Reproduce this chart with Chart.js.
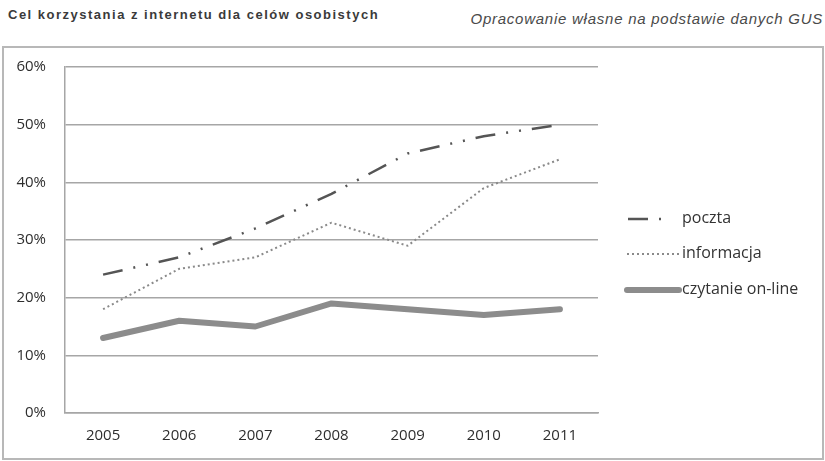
<!DOCTYPE html>
<html>
<head>
<meta charset="utf-8">
<script src="https://cdn.jsdelivr.net/npm/chart.js@4/dist/chart.umd.min.js"></script>
<style>
  html, body { margin: 0; padding: 0; background: #fff; }
  #wrap { position: relative; width: 825px; height: 461px; overflow: hidden; background: #fff; }
  .title {
    position: absolute; left: 8px; top: 7px;
    font: bold 13px "Liberation Sans", Arial, sans-serif;
    letter-spacing: 1.5px; color: #3a3a3a; white-space: nowrap;
  }
  .source {
    position: absolute; right: 2px; top: 10px;
    font: italic 15px "Liberation Sans", Arial, sans-serif;
    letter-spacing: 0.75px; color: #4a4a4a; white-space: nowrap;
  }
  .frame {
    position: absolute; left: 2px; top: 46px; width: 818px; height: 410px;
    border: 2px solid #b8b8b8;
  }
  canvas { position: absolute; left: 0; top: 0; }
</style>
</head>
<body>
<div id="wrap">
  <div class="title">Cel korzystania z internetu dla celów osobistych</div>
  <div class="source">Opracowanie własne na podstawie danych GUS</div>
  <div class="frame"></div>
  <canvas id="chart" width="825" height="461"></canvas>
</div>
<script>
// Years on the category axis
const years = ['2005', '2006', '2007', '2008', '2009', '2010', '2011'];
// Share of internet users (%) by purpose
const poczta = [24, 27, 32, 38, 45, 48, 50];
const informacja = [18, 25, 27, 33, 29, 39, 44];
const czytanieOnline = [13, 16, 15, 19, 18, 17, 18];
// Value axis ticks
const yTicks = [0, 10, 20, 30, 40, 50, 60];

// Legend drawn to the right of the plot, using each dataset's own line style
const sideLegend = {
  id: 'sideLegend',
  afterDraw(chart) {
    const ctx = chart.ctx;
    const rows = [
      { y: 219, x0: 628, x1: 668 },
      { y: 254, x0: 627, x1: 679 },
      { y: 290, x0: 627, x1: 679 }
    ];
    chart.data.datasets.forEach((ds, i) => {
      const r = rows[i];
      ctx.save();
      ctx.strokeStyle = ds.borderColor;
      ctx.lineWidth = ds.borderWidth;
      ctx.lineCap = ds.borderCapStyle || 'butt';
      ctx.setLineDash(ds.borderDash || []);
      ctx.beginPath();
      ctx.moveTo(r.x0, r.y);
      ctx.lineTo(r.x1, r.y);
      ctx.stroke();
      ctx.restore();
      ctx.save();
      ctx.fillStyle = '#333';
      ctx.font = '16px "Open Sans", sans-serif';
      ctx.textBaseline = 'middle';
      ctx.fillText(ds.label, 682, r.y - 1);
      ctx.restore();
    });
  }
};

function draw() {
  new Chart(document.getElementById('chart'), {
    type: 'line',
    data: {
      labels: years,
      datasets: [
        {
          label: 'poczta',
          data: poczta,
          borderColor: '#555555',
          borderWidth: 2.5,
          borderDash: [20, 11, 2, 11, 2, 11],
          pointRadius: 0,
          tension: 0,
          fill: false
        },
        {
          label: 'informacja',
          data: informacja,
          borderColor: '#8a8a8a',
          borderWidth: 2,
          borderDash: [2, 3],
          pointRadius: 0,
          tension: 0,
          fill: false
        },
        {
          label: 'czytanie on-line',
          data: czytanieOnline,
          borderColor: '#8c8c8c',
          borderWidth: 6,
          borderCapStyle: 'round',
          borderJoinStyle: 'round',
          pointRadius: 0,
          tension: 0,
          fill: false
        }
      ]
    },
    options: {
      responsive: false,
      animation: false,
      layout: { padding: { left: 0, top: 67, right: 227, bottom: 0 } },
      plugins: {
        legend: { display: false },
        tooltip: { enabled: false },
        title: { display: false }
      },
      scales: {
        x: {
          offset: true,
          grid: { display: false, drawTicks: false },
          border: { display: true, color: '#a6a6a6', width: 1.5 },
          ticks: {
            color: '#2e2e2e',
            font: { family: '"Open Sans", sans-serif', size: 15 },
            padding: 14,
            maxRotation: 0
          },
          afterFit(scale) { scale.height = 48; }
        },
        y: {
          min: yTicks[0],
          max: yTicks[yTicks.length - 1],
          afterBuildTicks(scale) { scale.ticks = yTicks.map(v => ({ value: v })); },
          grid: { color: '#a6a6a6', lineWidth: 1.5, drawTicks: false },
          border: { display: true, color: '#a6a6a6', width: 1.5 },
          ticks: {
            color: '#2e2e2e',
            font: { family: '"Open Sans", sans-serif', size: 15 },
            padding: 19,
            callback: v => v + '%'
          },
          afterFit(scale) { scale.width = 65; }
        }
      }
    },
    plugins: [sideLegend]
  });
}

if (document.fonts && document.fonts.load) {
  Promise.all([
    document.fonts.load('15px "Open Sans"'),
    document.fonts.load('bold 13px "Liberation Sans"')
  ]).then(draw, draw);
} else {
  draw();
}
</script>
</body>
</html>
